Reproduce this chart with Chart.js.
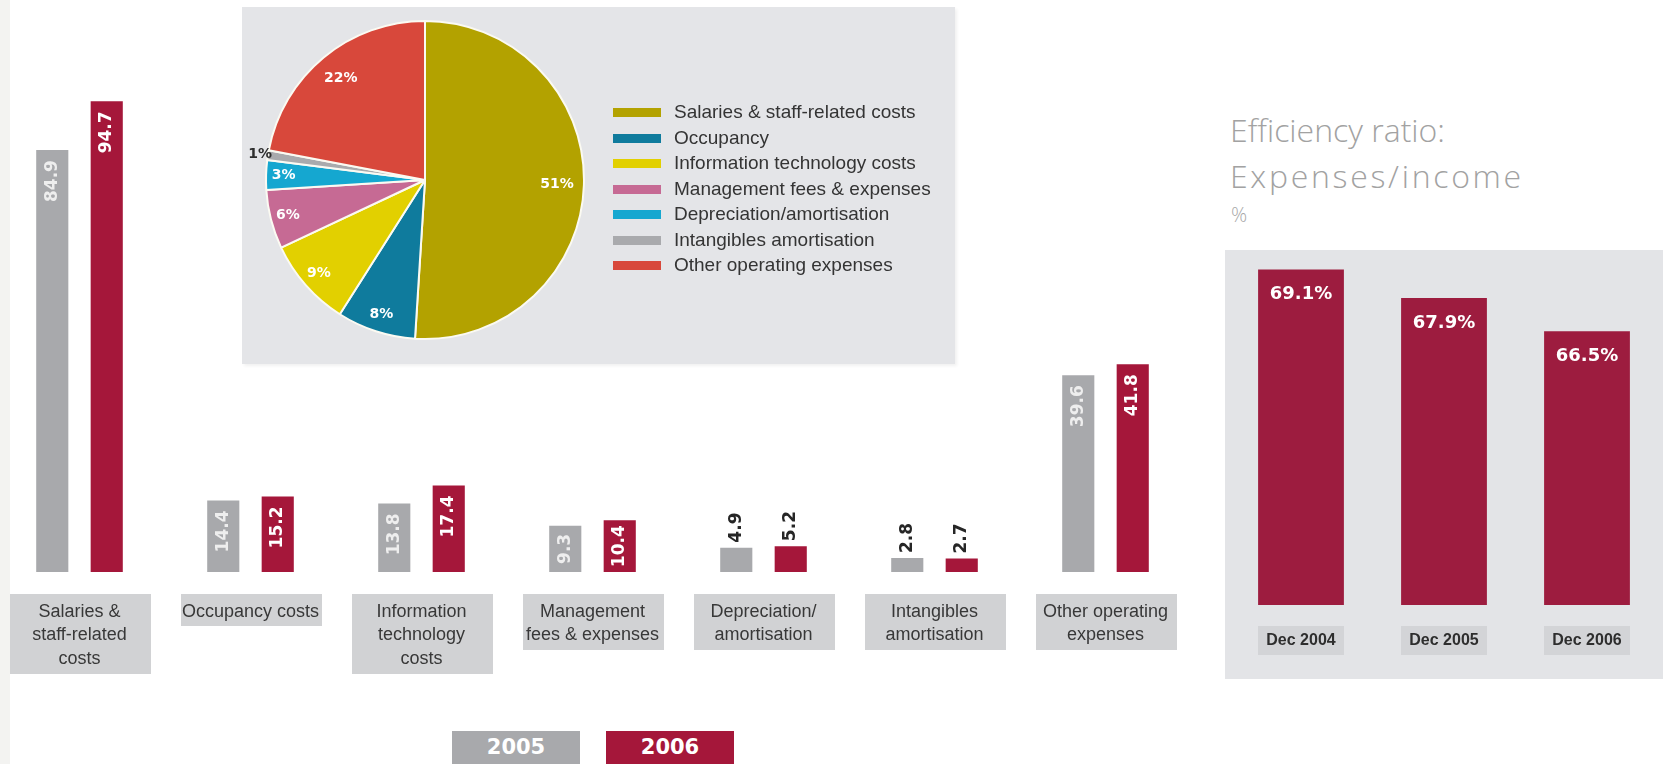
<!DOCTYPE html>
<html>
<head>
<meta charset="utf-8">
<title>Operating expenses</title>
<script src="https://cdn.jsdelivr.net/npm/chart.js@4.4.1/dist/chart.umd.min.js"></script>
<style>
  html, body { margin: 0; padding: 0; background: #fff; }
  #page { position: relative; width: 1663px; height: 764px; overflow: hidden; background: #fff;
          font-family: "Liberation Sans", Arial, sans-serif; }
  .abs { position: absolute; }
  #edgeL { left: 0; top: 0; width: 10px; height: 764px; background: #f3f3f1; }
  #costs { left: -6px; top: 0; }
  #piePanel { left: 242px; top: 7px; width: 713px; height: 357px; background: #e4e5e8;
              box-shadow: 2px 2px 3px rgba(0,0,0,0.06); }
  #pie { left: 245px; top: 10px; }
  #pieLegend { left: 613px; top: 99px; width: 330px; }
  .lgRow { position: absolute; left: 0; height: 26px; width: 330px; }
  .lgSw { position: absolute; left: 0; top: 9px; width: 48px; height: 9px; }
  .lgTx { position: absolute; left: 61px; top: 0; line-height: 26px; font-size: 19px; color: #343434; white-space: nowrap; }
  #effTitle { left: 1230px; top: 107px; font-family: "Open Sans", sans-serif; font-weight: 300; font-size: 32px;
              line-height: 46px; color: #a2a2a2; white-space: nowrap; }
  #effTitle .l1 { letter-spacing: 0px; }
  #effTitle .l2 { letter-spacing: 2.7px; }
  #effUnit { left: 1231px; top: 205px; font-family: "Open Sans", sans-serif; font-weight: 300; font-size: 20px;
             line-height: 20px; color: #a8a8a8; }
  #effPanel { left: 1225px; top: 250px; width: 438px; height: 429px; background: #e3e4e7; }
  #eff { left: 1225px; top: 240px; }
  .yearBox { position: absolute; top: 731px; width: 128px; height: 33px; line-height: 33px; text-align: center;
             color: #fff; font-family: "DejaVu Sans", sans-serif; font-weight: bold; font-size: 21px; }
</style>
</head>
<body>
<div id="page">
  <div id="edgeL" class="abs"></div>
  <canvas id="costs" class="abs" width="1200" height="764"></canvas>
  <div id="piePanel" class="abs"></div>
  <canvas id="pie" class="abs" width="360" height="340"></canvas>
  <div id="pieLegend" class="abs"></div>
  <div id="effTitle" class="abs"><span class="l1">Efficiency ratio:</span><br><span class="l2">Expenses/income</span></div>
  <div id="effUnit" class="abs">%</div>
  <div id="effPanel" class="abs"></div>
  <canvas id="eff" class="abs" width="438" height="439"></canvas>
  <div id="yearLegend"></div>
</div>
<script>
// ---- Expense categories (each entry is the lines of its caption) ----
const categories = [
  ["Salaries &", "staff-related", "costs"],
  ["Occupancy costs"],
  ["Information", "technology", "costs"],
  ["Management", "fees & expenses"],
  ["Depreciation/", "amortisation"],
  ["Intangibles", "amortisation"],
  ["Other operating", "expenses"]
];
const seriesNames = ["2005", "2006"];
const values2005 = [84.9, 14.4, 13.8, 9.3, 4.9, 2.8, 39.6];
const values2006 = [94.7, 15.2, 17.4, 10.4, 5.2, 2.7, 41.8];

// ---- Expense mix (percent of total) ----
const pieLabels = [
  "Salaries & staff-related costs",
  "Occupancy",
  "Information technology costs",
  "Management fees & expenses",
  "Depreciation/amortisation",
  "Intangibles amortisation",
  "Other operating expenses"
];
const pieShares = [51, 8, 9, 6, 3, 1, 22];

// ---- Efficiency ratio ----
const ratioPeriods = ["Dec 2004", "Dec 2005", "Dec 2006"];
const ratioValues = [69.1, 67.9, 66.5];

// ---- Styling ----
const GREY = "#a8a9ac";
const RED = "#a5173a";
const RATIO_RED = "#9d1c3f";
const seriesColors = [GREY, RED];
const pieColors = ["#b3a200", "#0f7b9d", "#e2d000", "#c66a94", "#15a7d0", "#a9aaad", "#d8483b"];
const VALUE_FONT = 'bold 17px "DejaVu Sans", sans-serif';

// Rotated value labels: inside the bar top when it fits, otherwise above it.
const barValueLabels = {
  id: "barValueLabels",
  afterDatasetsDraw(chart) {
    const ctx = chart.ctx;
    ctx.save();
    ctx.font = VALUE_FONT;
    ctx.textBaseline = "middle";
    chart.data.datasets.forEach((ds, di) => {
      const meta = chart.getDatasetMeta(di);
      meta.data.forEach((bar, i) => {
        const txt = ds.data[i].toFixed(1);
        const len = ctx.measureText(txt).width;
        const h = bar.base - bar.y;
        ctx.save();
        if (h >= len + 8) {
          const off = Math.min(10, (h - len) / 2);
          ctx.translate(bar.x, bar.y + off);
          ctx.rotate(-Math.PI / 2);
          ctx.textAlign = "right";
          ctx.fillStyle = di === 0 ? "#eeeeee" : "#ffffff";
        } else {
          ctx.translate(bar.x, bar.y - 5);
          ctx.rotate(-Math.PI / 2);
          ctx.textAlign = "left";
          ctx.fillStyle = "#262626";
        }
        ctx.fillText(txt, 0, 0);
        ctx.restore();
      });
    });
    ctx.restore();
  }
};

// Grey caption boxes under each category.
const categoryBoxes = {
  id: "categoryBoxes",
  afterDraw(chart) {
    const ctx = chart.ctx;
    const xs = chart.scales.x;
    const top = 594;
    ctx.save();
    ctx.font = '18px "Liberation Sans", Arial, sans-serif';
    ctx.textAlign = "center";
    ctx.textBaseline = "middle";
    chart.data.labels.forEach((lines, i) => {
      const cx = xs.getPixelForValue(i);
      const h = 8 + 24 * lines.length;
      ctx.fillStyle = "#d1d2d4";
      ctx.fillRect(Math.round(cx - 70), top, 141, h);
      ctx.fillStyle = "#383838";
      lines.forEach((t, k) => ctx.fillText(t, cx, top + 18 + 23.5 * k));
    });
    ctx.restore();
  }
};

new Chart(document.getElementById("costs"), {
  type: "bar",
  data: {
    labels: categories,
    datasets: seriesNames.map((name, k) => ({
      label: name,
      data: k === 0 ? values2005 : values2006,
      backgroundColor: seriesColors[k],
      categoryPercentage: 0.637,
      barPercentage: 0.59
    }))
  },
  options: {
    responsive: false,
    animation: false,
    layout: { padding: { left: 0, right: 3, top: 80, bottom: 192 } },
    scales: {
      x: { display: false },
      y: { display: false, min: 0, max: 99 }
    },
    plugins: { legend: { display: false }, tooltip: { enabled: false } }
  },
  plugins: [barValueLabels, categoryBoxes]
});

// Percentage labels placed along each slice's mid-angle.
const pieValueLabels = {
  id: "pieValueLabels",
  afterDatasetsDraw(chart) {
    const ctx = chart.ctx;
    const meta = chart.getDatasetMeta(0);
    ctx.save();
    ctx.font = 'bold 14px "DejaVu Sans", sans-serif';
    ctx.textAlign = "center";
    ctx.textBaseline = "middle";
    meta.data.forEach((arc, i) => {
      const p = arc.getProps(["x", "y", "startAngle", "endAngle", "outerRadius"], true);
      const mid = (p.startAngle + p.endAngle) / 2;
      const share = pieShares[i];
      const f = share < 2 ? 1.05 : (share >= 15 ? 0.83 : 0.89);
      const x = p.x + Math.cos(mid) * p.outerRadius * f;
      const y = p.y + Math.sin(mid) * p.outerRadius * f;
      ctx.fillStyle = share < 2 ? "#2e2e2e" : "#ffffff";
      ctx.fillText(share + "%", x, y);
    });
    ctx.restore();
  }
};

new Chart(document.getElementById("pie"), {
  type: "pie",
  data: {
    labels: pieLabels,
    datasets: [{
      data: pieShares,
      backgroundColor: pieColors,
      borderColor: "#fbfaf2",
      borderWidth: 2
    }]
  },
  options: {
    responsive: false,
    animation: false,
    layout: { padding: { left: 0, right: 0, top: 10, bottom: 10 } },
    plugins: { legend: { display: false }, tooltip: { enabled: false } }
  },
  plugins: [pieValueLabels]
});

// Pie legend
const lg = document.getElementById("pieLegend");
pieLabels.forEach((name, i) => {
  const row = document.createElement("div");
  row.className = "lgRow";
  row.style.top = (25.5 * i) + "px";
  row.innerHTML = '<div class="lgSw" style="background:' + pieColors[i] + '"></div><div class="lgTx"></div>';
  row.querySelector(".lgTx").textContent = name;
  lg.appendChild(row);
});

// Efficiency ratio chart
const ratioLabels = {
  id: "ratioLabels",
  afterDraw(chart) {
    const ctx = chart.ctx;
    const meta = chart.getDatasetMeta(0);
    ctx.save();
    ctx.textAlign = "center";
    ctx.textBaseline = "middle";
    meta.data.forEach((bar, i) => {
      ctx.font = 'bold 18px "DejaVu Sans", sans-serif';
      ctx.fillStyle = "#ffffff";
      ctx.fillText(ratioValues[i].toFixed(1) + "%", bar.x, bar.y + 25);
      const w = bar.width;
      ctx.fillStyle = "#d3d4d7";
      ctx.fillRect(Math.round(bar.x - w / 2), 386, Math.round(w), 29);
      ctx.font = 'bold 16px "Liberation Sans", Arial, sans-serif';
      ctx.fillStyle = "#2e2e2e";
      ctx.fillText(chart.data.labels[i], bar.x, 401);
    });
    ctx.restore();
  }
};

new Chart(document.getElementById("eff"), {
  type: "bar",
  data: {
    labels: ratioPeriods,
    datasets: [{
      data: ratioValues,
      backgroundColor: RATIO_RED,
      categoryPercentage: 1,
      barPercentage: 0.6
    }]
  },
  options: {
    responsive: false,
    animation: false,
    layout: { padding: { left: 4.5, right: 4.5, top: 8, bottom: 74 } },
    scales: {
      x: { display: false },
      y: { display: false, min: 55, max: 70 }
    },
    plugins: { legend: { display: false }, tooltip: { enabled: false } }
  },
  plugins: [ratioLabels]
});

// Year key
const yl = document.getElementById("yearLegend");
const yearLeft = [452, 606];
seriesNames.forEach((name, k) => {
  const b = document.createElement("div");
  b.className = "yearBox";
  b.style.left = yearLeft[k] + "px";
  b.style.background = seriesColors[k];
  b.textContent = name;
  yl.appendChild(b);
});
</script>
</body>
</html>
